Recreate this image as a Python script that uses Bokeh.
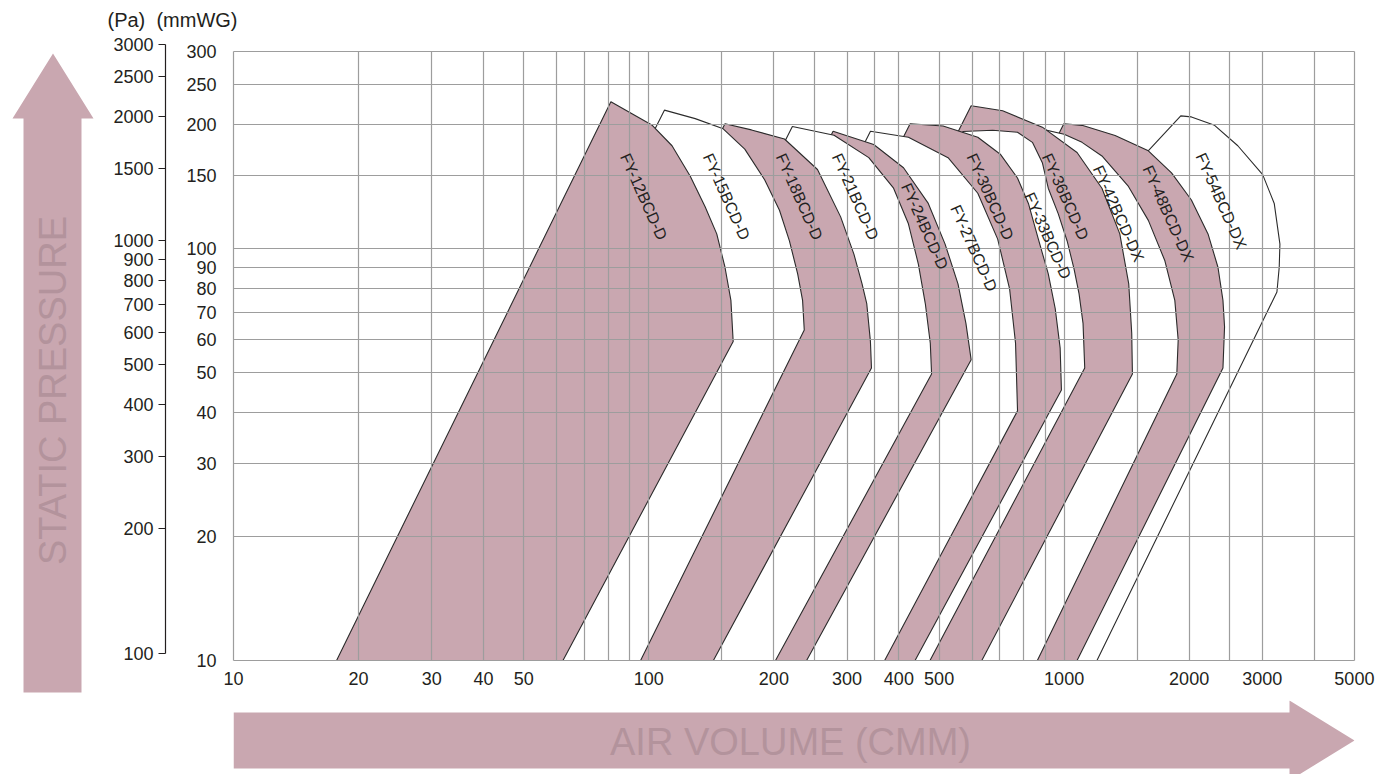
import math
from bokeh.plotting import figure
from bokeh.layouts import row, column
from bokeh.models import (Range1d, LogScale, LogAxis, FixedTicker, BasicTickFormatter,
                          BoxAnnotation, Title, Grid)
from bokeh.core.properties import value
from bokeh.embed import file_html
from bokeh.resources import INLINE

FONT = "Liberation Sans"
PINK = "#c9a7b0"
ARROW_TEXT = "#b3939c"
INK = "#231f20"
GRID = "#9d9d9d"
EDGE = "#2b2b2b"

# ---------------- data ----------------
X_TICKS = [10, 20, 30, 40, 50, 100, 200, 300, 400, 500, 1000, 2000, 3000, 5000]
X_MINOR = [60, 70, 80, 90, 150, 250, 350, 600, 700, 800, 900, 1500, 2500, 4000]
Y_TICKS = [10, 20, 30, 40, 50, 60, 70, 80, 90, 100, 150, 200, 250, 300]
PA_TICKS = [100, 200, 300, 400, 500, 600, 700, 800, 900, 1000, 1500, 2000, 2500, 3000]
PA_PER_MMWG = 9.6

MODELS = ["FY-12BCD-D", "FY-15BCD-D", "FY-18BCD-D", "FY-21BCD-D", "FY-24BCD-D",
          "FY-27BCD-D", "FY-30BCD-D", "FY-33BCD-D", "FY-36BCD-D", "FY-42BCD-DX",
          "FY-48BCD-DX", "FY-54BCD-DX"]
FILLED = [True, False, True, False, True, False, True, False, True, False, True, False]

# envelope of each fan: bottom-left, peak, max-curve ..., knee, bottom-right  (CMM, mmWG)
FY12_Q = [17.7, 81.0, 101.9, 113.7, 125.8, 136.6, 145.7, 152.5, 157.6, 159.6, 62.1]
FY12_P = [10, 226.7, 198.6, 177.2, 149.4, 126.0, 108.3, 89.9, 74.7, 59.4, 10]
FY15_Q = [23.4, 109.0, 129.3, 151.0, 170.2, 190.0, 206.3, 218.0, 228.2, 234.5, 236.7, 95.5]
FY15_P = [10, 216.2, 206.2, 194.8, 173.9, 146.6, 123.6, 104.2, 86.6, 74.7, 63.3, 10]
FY18_Q = [34.1, 152.5, 176.6, 212.1, 254.7, 289.6, 311.7, 326.0, 334.7, 341.6, 343.6, 143.0]
FY18_P = [10, 200.4, 193.6, 184.0, 155.2, 119.1, 96.7, 82.0, 73.4, 59.4, 51.2, 10]
FY21_Q = [49.9, 221.6, 279.2, 338.5, 388.4, 421.7, 445.6, 463.1, 476.1, 479.5, 201.8]
FY21_P = [10, 197.4, 187.9, 165.8, 139.8, 114.6, 91.5, 73.4, 58.8, 49.5, 10]
FY24_Q = [63.3, 277.7, 347.9, 410.4, 470.8, 516.8, 555.1, 580.1, 597.2, 239.8]
FY24_P = [10, 192.2, 178.5, 156.7, 128.4, 102.3, 81.9, 65.7, 53.6, 10]
FY27_Q = [77.9, 341.7, 421.7, 525.4, 619.6, 691.8, 739.0, 763.8, 772.3, 369.6]
FY27_P = [10, 192.2, 185.8, 165.8, 135.9, 105.2, 79.7, 58.8, 40.3, 10]
FY30_Q = [95.1, 425.7, 511.1, 619.6, 703.2, 772.1, 820.3, 866.8, 915.8, 951.7, 978.2, 985.1, 437.5]
FY30_P = [10, 200.4, 197.8, 185.8, 168.7, 148.0, 128.4, 105.2, 86.6, 71.4, 57.2, 45.3, 10]
FY33_Q = [130.2, 570.6, 673.0, 772.1, 838.7, 886.2, 915.8, 967.6, 1016.7, 1056.7, 1086.3, 1110.5, 1121.0, 475.3]
FY33_P = [10, 191.9, 193.3, 191.1, 180.6, 161.2, 139.8, 121.3, 104.1, 89.0, 77.5, 65.7, 51.2, 10]
FY36_Q = [126.9, 597.2, 711.0, 886.2, 1074.3, 1233.1, 1361.6, 1430.8, 1454.7, 1460.3, 633.5]
FY36_P = [10, 221.6, 215.4, 196.6, 170.6, 139.8, 108.3, 81.9, 62.2, 49.5, 10]
FY42_Q = [195.0, 862.0, 1000.0, 1104.3, 1233.1, 1428.4, 1595.0, 1748.3, 1847.3, 1882.1, 1867.7, 862.0]
FY42_P = [10, 195.5, 189.0, 180.6, 167.4, 141.2, 116.8, 93.2, 74.7, 59.9, 49.5, 10]
FY48_Q = [223.1, 998.4, 1104.3, 1326.7, 1595.0, 1813.9, 2025.2, 2220.7, 2346.6, 2412.4, 2434.0, 2412.4, 1074.3]
FY48_P = [10, 200.4, 198.6, 187.6, 172.3, 152.3, 130.9, 108.3, 89.9, 74.7, 64.5, 51.2, 10]
FY54_Q = [115.0, 1909.2, 2025.2, 2303.0, 2619.5, 3006.8, 3205.8, 3308.5, 3295.6, 3254.0, 1199.5]
FY54_P = [10, 209.4, 208.2, 198.6, 177.2, 150.8, 128.4, 102.3, 89.9, 78.3, 10]

FAN_Q = [FY12_Q, FY15_Q, FY18_Q, FY21_Q, FY24_Q, FY27_Q, FY30_Q, FY33_Q, FY36_Q, FY42_Q, FY48_Q, FY54_Q]
FAN_P = [FY12_P, FY15_P, FY18_P, FY21_P, FY24_P, FY27_P, FY30_P, FY33_P, FY36_P, FY42_P, FY48_P, FY54_P]

LABEL_Q = [97.2, 153.8, 230.3, 314.3, 461.7, 606.2, 663.8, 913.2, 1007.2, 1352, 1781, 2389]
LABEL_P = [133.4, 133.4, 133.4, 133.4, 113.0, 100.0, 133.4, 107.2, 133.4, 121.3, 121.3, 130.2]
LABEL_ANGLE = -66

# ---------------- geometry (page pixels, origin top-left) ----------------
W_LEFT = 106
W_MAIN = 1276
H_MAIN = 700
H_BOTTOM = 74
H_TOTAL = H_MAIN + H_BOTTOM
MB_LEFT, MB_RIGHT, MB_TOP, MB_BOTTOM = 127, 28, 36, 40
TOP_PAD = 15   # part of the frame above the 300 mmWG line (room for the 3000 Pa tick)

frame_h = H_MAIN - MB_TOP - MB_BOTTOM
px_dec_y = (frame_h - TOP_PAD) / math.log10(Y_TICKS[-1] / Y_TICKS[0])
EPS = 1.0006
x_lo, x_hi = X_TICKS[0] / EPS, X_TICKS[-1] * EPS
y_lo = Y_TICKS[0] / EPS
y_hi = Y_TICKS[-1] * 10 ** (TOP_PAD / px_dec_y)

p = figure(width=W_MAIN, height=H_MAIN, x_axis_type="log", y_axis_type="log",
           x_range=Range1d(x_lo, x_hi), y_range=Range1d(y_lo, y_hi),
           output_backend="svg", toolbar_location=None, title_location=None,
           min_border_left=MB_LEFT, min_border_right=MB_RIGHT,
           min_border_top=MB_TOP, min_border_bottom=MB_BOTTOM)
p.outline_line_color = None
p.background_fill_color = "white"
p.border_fill_color = "white"

xt = FixedTicker(ticks=X_TICKS, minor_ticks=X_MINOR)
yt = FixedTicker(ticks=Y_TICKS)

xa = p.xaxis[0]
xa.ticker = xt
xa.formatter = BasicTickFormatter()
xa.axis_line_color = None
xa.major_tick_line_color = None
xa.minor_tick_line_color = None
xa.major_label_standoff = 5
xa.major_label_text_font = FONT
xa.major_label_text_font_size = "18px"
xa.major_label_text_color = INK

ya = p.yaxis[0]
ya.ticker = yt
ya.formatter = BasicTickFormatter()
ya.axis_line_color = None
ya.major_tick_line_color = None
ya.minor_tick_line_color = None
ya.major_label_standoff = 11
ya.major_label_text_font = FONT
ya.major_label_text_font_size = "18px"
ya.major_label_text_color = INK
# blank axis label: only widens the mmWG panel so the Pa axis sits further out
ya.axis_label = "\u00a0"
ya.axis_label_text_font_size = "10px"
ya.axis_label_standoff = 4

p.extra_y_ranges = {"pa": Range1d(y_lo * PA_PER_MMWG, y_hi * PA_PER_MMWG)}
p.extra_y_scales = {"pa": LogScale()}
pa_axis = LogAxis(y_range_name="pa", ticker=FixedTicker(ticks=PA_TICKS),
                  formatter=BasicTickFormatter(), bounds=(PA_TICKS[0], PA_TICKS[-1]),
                  axis_line_color=INK, axis_line_width=1.2,
                  major_tick_line_color=INK, major_tick_line_width=1.2,
                  major_tick_out=7, major_tick_in=0, minor_tick_line_color=None,
                  major_label_standoff=5, major_label_text_font=FONT,
                  major_label_text_font_size="18px", major_label_text_color=INK)
p.add_layout(pa_axis, "left")

p.xgrid.ticker = xt
p.ygrid.ticker = yt
for g in (p.xgrid[0], p.ygrid[0]):
    g.grid_line_color = GRID
    g.grid_line_width = 1.2
    g.level = "guide"
p.xgrid[0].minor_grid_line_color = GRID
p.xgrid[0].minor_grid_line_width = 1.2

if "cross_bounds" in Grid.properties():
    p.xgrid[0].cross_bounds = (y_lo, Y_TICKS[-1])
else:
    p.add_layout(BoxAnnotation(bottom=Y_TICKS[-1] * 10 ** (1.2 / px_dec_y),
                               fill_color="white", fill_alpha=1.0, line_color=None))

# fans: largest drawn first, smaller ones on top
for q, pr, filled in reversed(list(zip(FAN_Q, FAN_P, FILLED))):
    p.patch(q, pr, fill_color=PINK if filled else "white", fill_alpha=1.0, line_color=None)
    p.line(q, pr, line_color=EDGE, line_width=1.1)

p.text(x=LABEL_Q, y=LABEL_P, text=MODELS, angle=LABEL_ANGLE, angle_units="deg",
       text_font=value(FONT), text_font_size="16px", text_color=INK,
       text_align="center", text_baseline="middle", level="overlay")

# unit captions above the two vertical axes
p.add_layout(Title(text="(Pa)\u00a0\u00a0(mmWG)", align="left", offset=-126, standoff=11,
                   text_font=FONT, text_font_size="20px", text_font_style="normal",
                   text_color=INK), "above")

# ---------------- arrows ----------------
left = figure(width=W_LEFT, height=H_TOTAL, x_range=Range1d(0, W_LEFT),
              y_range=Range1d(0, H_TOTAL), output_backend="svg", toolbar_location=None,
              title_location=None, x_axis_location=None, y_axis_location=None, min_border=0)
left.outline_line_color = None
left.grid.visible = False
va_x = [52.5, 93, 81, 81, 23, 23, 12]
va_y = [53, 118, 118, 692, 692, 118, 118]
left.patch(va_x, [H_TOTAL - v for v in va_y], fill_color=PINK, line_color=None)
left.text(x=[52], y=[H_TOTAL - 390], text=["STATIC PRESSURE"], angle=90, angle_units="deg",
          text_font=value(FONT), text_font_size="38px", text_color=ARROW_TEXT,
          text_align="center", text_baseline="middle")

# the bottom figure's frame is aligned with the main frame (page x 233 .. 1354)
bottom = figure(width=W_MAIN, height=H_BOTTOM, x_range=Range1d(233, 1354),
                y_range=Range1d(0, H_BOTTOM), output_backend="svg", toolbar_location=None,
                title_location=None, x_axis_location=None, y_axis_location=None, min_border=0)
bottom.outline_line_color = None
bottom.grid.visible = False
ha_x = [233, 1289, 1289, 1354, 1289, 1289, 233]
ha_y = [712, 712, 700, 740, 780, 768, 768]
bottom.patch(ha_x, [H_TOTAL - v for v in ha_y], fill_color=PINK, line_color=None)
bottom.text(x=[790], y=[H_TOTAL - 741], text=["AIR VOLUME (CMM)"],
            text_font=value(FONT), text_font_size="38px", text_color=ARROW_TEXT,
            text_align="center", text_baseline="middle")

layout = row(left, column(p, bottom))
open("out.html", "w").write(file_html(layout, INLINE))
